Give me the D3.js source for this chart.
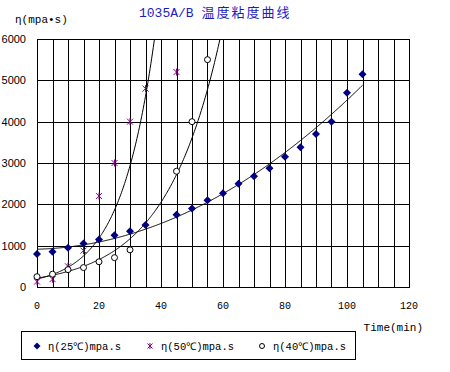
<!DOCTYPE html>
<html>
<head>
<meta charset="utf-8">
<script src="https://cdn.jsdelivr.net/npm/d3@7.9.0/dist/d3.min.js"></script>
<style>
  body { margin: 0; background: #fff; }
  svg { display: block; }
  text { font-family: "Liberation Mono", "DejaVu Sans Mono", monospace; }
</style>
</head>
<body>
<svg id="chart" width="450" height="372"></svg>
<script>
// readings from the picture
const times25 = [0, 5, 10, 15, 20, 25, 30, 35, 45, 50, 55, 60, 65, 70, 75, 80, 85, 90, 95, 100, 105];
const visc25 = [800, 850, 950, 1050, 1150, 1250, 1350, 1500, 1750, 1900, 2100, 2270, 2500, 2680, 2870, 3150, 3380, 3700, 4000, 4700, 5150];

const times50 = [0, 5, 10, 15, 20, 25, 30, 35, 45];
const visc50 = [130, 190, 500, 880, 2200, 3000, 4000, 4800, 5200];

const times40 = [0, 5, 10, 15, 20, 25, 30, 45, 50, 55];
const visc40 = [250, 310, 420, 470, 610, 710, 900, 2800, 4000, 5500];

const xTicks = [0, 20, 40, 60, 80, 100, 120];
const yTicks = [0, 1000, 2000, 3000, 4000, 5000, 6000];
const legendLabels = ['η(25℃)mpa.s', 'η(50℃)mpa.s', 'η(40℃)mpa.s'];

const svg = d3.select('#chart');
const x = d3.scaleLinear().domain([0, 120]).range([37, 409]);
const y = d3.scaleLinear().domain([0, 6000]).range([287, 39]);

// title and axis titles
const title = svg.append('text')
  .attr('x', 139).attr('y', 17)
  .attr('fill', '#1c1cc4')
  .style('font-size', '13px');
title.append('tspan').text('1035A/B ');
title.append('tspan')
  .style('font-family', '"Noto Sans CJK SC", sans-serif')
  .attr('letter-spacing', 2)
  .text('温度粘度曲线');

svg.append('text')
  .attr('x', 15).attr('y', 23)
  .style('font-size', '11px')
  .text('η(mpa•s)');

svg.append('text')
  .attr('x', 423).attr('y', 331)
  .attr('text-anchor', 'end')
  .style('font-size', '11px')
  .text('Time(min)');

// grid
const grid = svg.append('g').attr('stroke', '#000').attr('stroke-width', 1).attr('shape-rendering', 'crispEdges');
d3.range(0, 121, 5).forEach((t) => {
  grid.append('line')
    .attr('x1', Math.round(x(t)) + 0.5).attr('x2', Math.round(x(t)) + 0.5)
    .attr('y1', y(6000)).attr('y2', y(0));
});
yTicks.forEach((v) => {
  grid.append('line')
    .attr('x1', x(0)).attr('x2', x(120) + 1)
    .attr('y1', Math.round(y(v)) + 0.5).attr('y2', Math.round(y(v)) + 0.5);
});

// tick labels
svg.append('g').selectAll('text').data(yTicks).join('text')
  .attr('x', 26).attr('y', (d) => y(d) + 4)
  .attr('text-anchor', 'end')
  .style('font-family', '"Liberation Sans", Arial, sans-serif')
  .style('font-size', '11px')
  .text((d) => d);

svg.append('g').selectAll('text').data(xTicks).join('text')
  .attr('x', (d) => x(d)).attr('y', 309)
  .attr('text-anchor', 'middle')
  .style('font-size', '10px')
  .text((d) => d);

// trend lines (same fits as the spreadsheet: polynomial for 25℃, exponential for the others)
function polyFit2(xs, ys) {
  let s = [0, 0, 0, 0, 0], t = [0, 0, 0];
  xs.forEach((xv, i) => {
    for (let k = 0; k < 5; k++) s[k] += Math.pow(xv, k);
    for (let k = 0; k < 3; k++) t[k] += ys[i] * Math.pow(xv, k);
  });
  const m = [[s[0], s[1], s[2], t[0]], [s[1], s[2], s[3], t[1]], [s[2], s[3], s[4], t[2]]];
  for (let i = 0; i < 3; i++) {
    for (let j = i + 1; j < 3; j++) {
      const f = m[j][i] / m[i][i];
      for (let k = i; k < 4; k++) m[j][k] -= f * m[i][k];
    }
  }
  const c = [0, 0, 0];
  for (let i = 2; i >= 0; i--) {
    let v = m[i][3];
    for (let k = i + 1; k < 3; k++) v -= m[i][k] * c[k];
    c[i] = v / m[i][i];
  }
  return (xv) => c[0] + c[1] * xv + c[2] * xv * xv;
}

function expFit(xs, ys) {
  const ls = ys.map(Math.log);
  const mx = d3.mean(xs), ml = d3.mean(ls);
  let sxy = 0, sxx = 0;
  xs.forEach((xv, i) => { sxy += (xv - mx) * (ls[i] - ml); sxx += (xv - mx) * (xv - mx); });
  const b = sxy / sxx;
  const a = Math.exp(ml - b * mx);
  return (xv) => a * Math.exp(b * xv);
}

svg.append('clipPath').attr('id', 'plot')
  .append('rect').attr('x', x(0)).attr('y', y(6000)).attr('width', x(120) - x(0)).attr('height', y(0) - y(6000));

const line = d3.line().x((d) => x(d[0])).y((d) => y(d[1]));
const fits = [
  [polyFit2(times25, visc25), 105],
  [expFit(times50, visc50), 45],
  [expFit(times40, visc40), 60]
];
const trends = svg.append('g').attr('clip-path', 'url(#plot)');
fits.forEach(([f, end]) => {
  const pts = d3.range(0, end + 0.01, 0.25).map((t) => [t, f(t)]);
  trends.append('path')
    .attr('d', line(pts))
    .attr('fill', 'none')
    .attr('stroke', '#000')
    .attr('stroke-width', 1);
});

// markers
function drawDiamond(g, cx, cy, r = 4) {
  g.append('path')
    .attr('d', `M${cx},${cy - r}L${cx + r},${cy}L${cx},${cy + r}L${cx - r},${cy}Z`)
    .attr('fill', '#000080');
}
function drawStar(g, cx, cy, r = 3) {
  g.append('path')
    .attr('d', `M${cx - r},${cy - r}L${cx + r},${cy + r}M${cx - r},${cy + r}L${cx + r},${cy - r}M${cx},${cy - r - 0.5}L${cx},${cy + r + 0.5}`)
    .attr('stroke', '#800080')
    .attr('stroke-width', 1)
    .attr('fill', 'none');
}
function drawCircle(g, cx, cy, r = 3) {
  g.append('circle')
    .attr('cx', cx).attr('cy', cy).attr('r', r)
    .attr('fill', '#fff')
    .attr('stroke', '#000')
    .attr('stroke-width', 1);
}

const marks = svg.append('g');
times50.forEach((t, i) => drawStar(marks, x(t), y(visc50[i])));
times40.forEach((t, i) => drawCircle(marks, x(t), y(visc40[i])));
times25.forEach((t, i) => drawDiamond(marks, x(t), y(visc25[i])));

// legend
const legend = svg.append('g');
legend.append('rect')
  .attr('x', 21.5).attr('y', 331.5).attr('width', 334).attr('height', 28)
  .attr('fill', '#fff').attr('stroke', '#000').attr('stroke-width', 1);
const legendX = [37, 150, 262];
legendLabels.forEach((label, i) => {
  legend.append('text')
    .attr('x', legendX[i] + 11).attr('y', 350)
    .style('font-size', '10.5px')
    .text(label);
});
drawDiamond(legend, legendX[0], 346, 3.5);
drawStar(legend, legendX[1], 346, 2.5);
drawCircle(legend, legendX[2], 346, 2.5);
</script>
</body>
</html>
